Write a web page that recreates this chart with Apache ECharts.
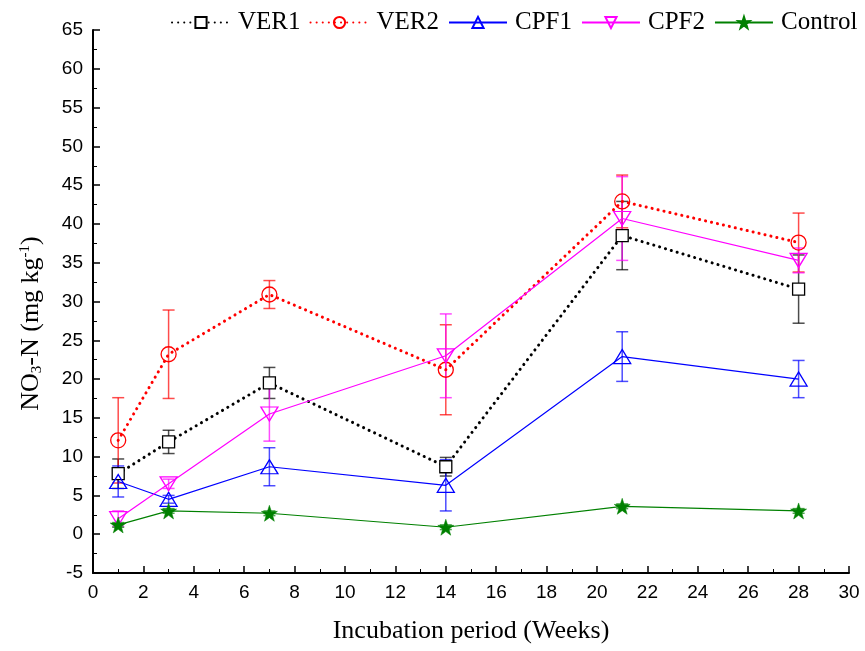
<!DOCTYPE html>
<html>
<head>
<meta charset="utf-8">
<script src="https://cdn.jsdelivr.net/npm/echarts@6/dist/echarts.min.js"></script>
<style>html,body{margin:0;padding:0;background:#fff;}#c{width:865px;height:651px;}</style>
</head>
<body>
<div id="c"></div>
<script>
const weeks = [1, 3, 7, 14, 21, 28];
const ver1 = [7.8, 11.9, 19.5, 8.7, 38.5, 31.6];
const ver1Err = [1.9, 1.5, 2.0, 1.2, 4.4, 4.4];
const ver2 = [12.1, 23.2, 30.9, 21.2, 42.9, 37.6];
const ver2Err = [5.5, 5.7, 1.8, 5.8, 3.4, 3.8];
const cpf1 = [6.8, 4.5, 8.7, 6.3, 22.9, 20.0];
const cpf1Err = [2.0, 0.5, 2.45, 3.3, 3.2, 2.4];
const cpf2 = [2.0, 6.5, 15.5, 23.0, 40.7, 35.3];
const cpf2Err = [1.0, 0.6, 3.5, 5.4, 5.4, 1.6];
const control = [1.2, 3.0, 2.7, 0.9, 3.6, 3.0];
const controlErr = [0.3, 0.3, 0.3, 0.3, 0.3, 0.3];
const seriesNames = ['VER1', 'VER2', 'CPF1', 'CPF2', 'Control'];

const star = 'path://M50,0 L61.8,35.1 L97.6,34.5 L69,56.2 L79.4,90.5 L50,70 L20.6,90.5 L31,56.2 L2.4,34.5 L38.2,35.1 Z';

function pts(vals){ return weeks.map((w,i)=>[w, vals[i]]); }
function errData(vals, errs){ return weeks.map((w,i)=>[w, vals[i]-errs[i], vals[i]+errs[i]]); }
function errSeries(vals, errs, color){
  return {
    type: 'custom', silent: true, z: 1,
    data: errData(vals, errs),
    renderItem: function(params, api){
      const x = api.value(0);
      const lo = api.coord([x, api.value(1)]);
      const hi = api.coord([x, api.value(2)]);
      const hw = 6;
      const st = {stroke: color, lineWidth: 1.5, opacity: 0.7};
      return {type: 'group', children: [
        {type:'line', shape:{x1:lo[0], y1:lo[1], x2:hi[0], y2:hi[1]}, style: st},
        {type:'line', shape:{x1:lo[0]-hw, y1:lo[1], x2:lo[0]+hw, y2:lo[1]}, style: st},
        {type:'line', shape:{x1:hi[0]-hw, y1:hi[1], x2:hi[0]+hw, y2:hi[1]}, style: st}
      ]};
    }
  };
}

const chart = echarts.init(document.getElementById('c'));
const serif = 'Liberation Serif, Times New Roman, serif';
chart.setOption({
  animation: false,
  backgroundColor: '#fff',
  grid: {left: 93, top: 30, right: 16, bottom: 78, containLabel: false},
  legend: {
    data: seriesNames,
    top: 5, left: 166, width: 699,
    itemWidth: 58, itemHeight: 14, itemGap: 9,
    textStyle: {fontFamily: serif, fontSize: 25, color: '#000', padding: [0,0,0,3]}
  },
  xAxis: {
    type: 'value', min: 0, max: 30, interval: 2,
    name: 'Incubation period (Weeks)', nameLocation: 'middle', nameGap: 45,
    nameTextStyle: {fontFamily: serif, fontSize: 26, color: '#000'},
    axisLine: {onZero: false, lineStyle: {color: '#000', width: 2}},
    axisTick: {inside: true, length: 7, lineStyle: {color: '#000', width: 1.5}},
    minorTick: {show: true, splitNumber: 2, length: 4, lineStyle: {color: '#000', width: 1}},
    axisLabel: {fontFamily: 'Liberation Sans Narrow, Arial Narrow, Liberation Sans, sans-serif', fontSize: 19, color: '#000', margin: 10},
    splitLine: {show: false}
  },
  yAxis: {
    type: 'value', min: -5, max: 65, interval: 5,
    name: '{a|NO}{sub|3}{a|-N (mg kg}{sup|-1}{a|)}',
    nameLocation: 'middle', nameRotate: 90, nameGap: 48,
    nameTextStyle: {
      fontFamily: serif, fontSize: 26, color: '#000', padding: [0, 44, 0, 0],
      rich: {
        a: {fontFamily: serif, fontSize: 26, color: '#000'},
        sub: {fontFamily: serif, fontSize: 15, color: '#000', verticalAlign: 'bottom', padding: [12,0,0,0]},
        sup: {fontFamily: serif, fontSize: 15, color: '#000', verticalAlign: 'top', padding: [0,0,12,0]}
      }
    },
    axisLine: {show: true, onZero: false, lineStyle: {color: '#000', width: 2}},
    axisTick: {show: true, inside: true, length: 7, lineStyle: {color: '#000', width: 1.5}},
    minorTick: {show: true, splitNumber: 2, length: 4, lineStyle: {color: '#000', width: 1}},
    axisLabel: {fontFamily: 'Liberation Sans, Arial, sans-serif', fontSize: 19, color: '#000', margin: 10},
    splitLine: {show: false}
  },
  series: [
    errSeries(ver1, ver1Err, '#000000'),
    errSeries(ver2, ver2Err, '#ff0000'),
    errSeries(cpf1, cpf1Err, '#0000ff'),
    errSeries(cpf2, cpf2Err, '#ff00ff'),
    errSeries(control, controlErr, '#008000'),
    {name: 'VER1', type: 'line', data: pts(ver1), z: 3,
     symbol: 'rect', symbolSize: 12,
     itemStyle: {color: '#fff', borderColor: '#000', borderWidth: 1.3},
     lineStyle: {color: '#000', width: 3, type: [0.1, 6], cap: 'round'}},
    {name: 'VER2', type: 'line', data: pts(ver2), z: 3,
     symbol: 'circle', symbolSize: 15,
     itemStyle: {color: 'rgba(255,255,255,0)', borderColor: '#ff0000', borderWidth: 1.3},
     lineStyle: {color: '#ff0000', width: 3, type: [0.1, 6], cap: 'round'}},
    {name: 'CPF1', type: 'line', data: pts(cpf1), z: 3,
     symbol: 'triangle', symbolSize: [17, 14],
     itemStyle: {color: 'rgba(255,255,255,0)', borderColor: '#0000ff', borderWidth: 1.3},
     lineStyle: {color: '#0000ff', width: 1.2}},
    {name: 'CPF2', type: 'line', data: pts(cpf2), z: 3,
     symbol: 'triangle', symbolRotate: 180, symbolSize: [17, 14],
     itemStyle: {color: 'rgba(255,255,255,0)', borderColor: '#ff00ff', borderWidth: 1.3},
     lineStyle: {color: '#ff00ff', width: 1.2}},
    {name: 'Control', type: 'line', data: pts(control), z: 3,
     symbol: star, symbolSize: 16,
     itemStyle: {color: '#008000', borderColor: '#008000', borderWidth: 0.5},
     lineStyle: {color: '#008000', width: 1.2}}
  ]
});
</script>
</body>
</html>
